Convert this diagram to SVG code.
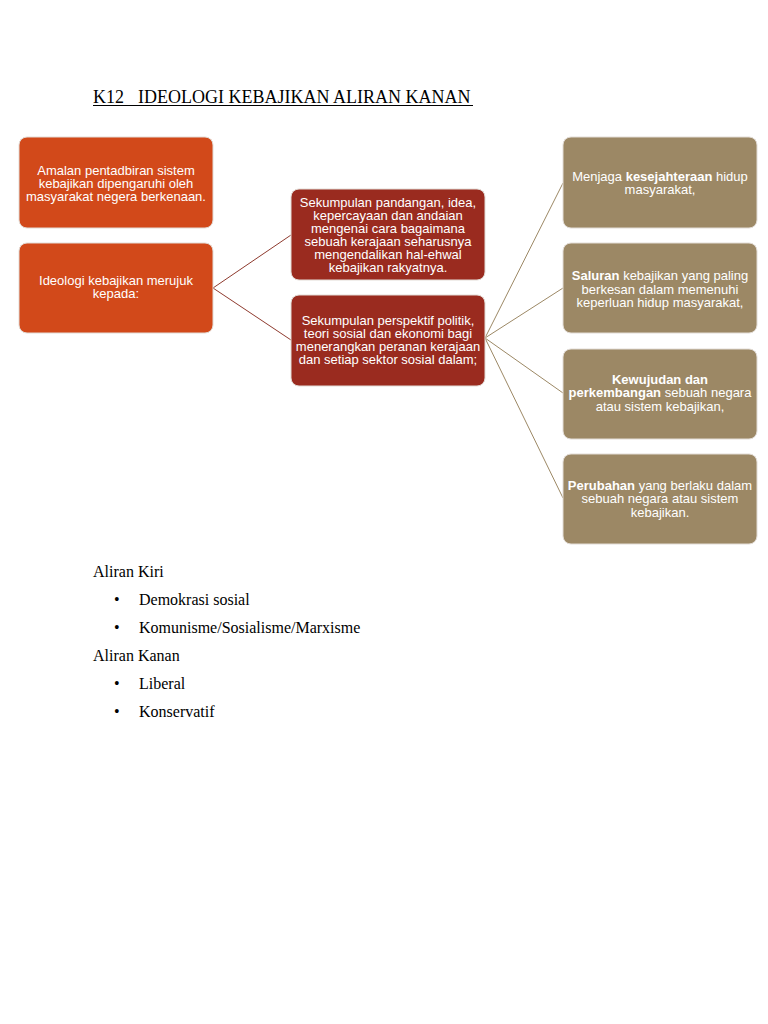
<svg xmlns="http://www.w3.org/2000/svg" width="768" height="1024" viewBox="0 0 768 1024">
<style>
.box{stroke:#e2dcd6;stroke-width:1}
.o{fill:#d2491a}
.r{fill:#9a2b1f}
.t{fill:#9c8865}
.bt{font-family:"Liberation Sans",Arial,sans-serif;font-size:13px;fill:#ffffff;text-anchor:middle}
.b{font-weight:bold}
.doc{font-family:"Liberation Serif","Times New Roman",serif;font-size:16px;fill:#000000}
</style>
<rect width="768" height="1024" fill="#ffffff"/>
<g id="title">
<text class="doc" x="93" y="103" style="font-size:18px">K12</text>
<text class="doc" x="138" y="103" style="font-size:18px">IDEOLOGI KEBAJIKAN ALIRAN KANAN</text>
<line x1="93" y1="105.5" x2="473" y2="105.5" stroke="#000" stroke-width="1"/>
</g>
<g id="connectors" fill="none" stroke-width="1">
<line x1="213" y1="288" x2="291" y2="235" stroke="#8e3a2e"/>
<line x1="213" y1="288" x2="291" y2="340" stroke="#8e3a2e"/>
<line x1="485" y1="338" x2="563" y2="183" stroke="#9c8865"/>
<line x1="485" y1="338" x2="563" y2="288" stroke="#9c8865"/>
<line x1="485" y1="338" x2="563" y2="393" stroke="#9c8865"/>
<line x1="485" y1="338" x2="563" y2="498" stroke="#9c8865"/>
</g>
<g id="nodeA">
<rect class="box o" x="19" y="137" width="194" height="91" rx="8"/>
<text class="bt" x="116" y="175">Amalan pentadbiran sistem</text>
<text class="bt" x="116" y="188">kebajikan dipengaruhi oleh</text>
<text class="bt" x="116" y="201">masyarakat negera berkenaan.</text>
</g>
<g id="nodeB">
<rect class="box o" x="19" y="243" width="194" height="90" rx="8"/>
<text class="bt" x="116" y="285">Ideologi kebajikan merujuk</text>
<text class="bt" x="116" y="298">kepada:</text>
</g>
<g id="nodeC">
<rect class="box r" x="291" y="189" width="194" height="91" rx="8"/>
<text class="bt" x="388" y="207">Sekumpulan pandangan, idea,</text>
<text class="bt" x="388" y="220">kepercayaan dan andaian</text>
<text class="bt" x="388" y="233">mengenai cara bagaimana</text>
<text class="bt" x="388" y="246">sebuah kerajaan  seharusnya</text>
<text class="bt" x="388" y="259">mengendalikan hal-ehwal</text>
<text class="bt" x="388" y="272">kebajikan rakyatnya.</text>
</g>
<g id="nodeD">
<rect class="box r" x="291" y="295" width="194" height="91" rx="8"/>
<text class="bt" x="388" y="325">Sekumpulan perspektif politik,</text>
<text class="bt" x="388" y="338">teori sosial dan ekonomi bagi</text>
<text class="bt" x="388" y="351">menerangkan peranan kerajaan</text>
<text class="bt" x="388" y="364">dan setiap sektor sosial dalam;</text>
</g>
<g id="nodeE1">
<rect class="box t" x="563" y="137" width="194" height="91" rx="8"/>
<text class="bt" x="660" y="181">Menjaga <tspan class="b">kesejahteraan</tspan> hidup</text>
<text class="bt" x="660" y="194">masyarakat,</text>
</g>
<g id="nodeE2">
<rect class="box t" x="563" y="243" width="194" height="90" rx="8"/>
<text class="bt" x="660" y="280"><tspan class="b">Saluran</tspan> kebajikan yang paling</text>
<text class="bt" x="660" y="294">berkesan dalam memenuhi</text>
<text class="bt" x="660" y="307">keperluan hidup masyarakat,</text>
</g>
<g id="nodeE3">
<rect class="box t" x="563" y="349" width="194" height="90" rx="8"/>
<text class="bt b" x="660" y="384">Kewujudan dan</text>
<text class="bt" x="660" y="397"><tspan class="b">perkembangan</tspan> sebuah negara</text>
<text class="bt" x="660" y="411">atau sistem kebajikan,</text>
</g>
<g id="nodeE4">
<rect class="box t" x="563" y="454" width="194" height="90" rx="8"/>
<text class="bt" x="660" y="490"><tspan class="b">Perubahan</tspan> yang berlaku dalam</text>
<text class="bt" x="660" y="503">sebuah negara atau sistem</text>
<text class="bt" x="660" y="517">kebajikan.</text>
</g>
<g id="list">
<text class="doc" x="93" y="577">Aliran Kiri</text>
<text class="doc" x="114" y="605">•</text>
<text class="doc" x="139" y="605">Demokrasi sosial</text>
<text class="doc" x="114" y="633">•</text>
<text class="doc" x="139" y="633">Komunisme/Sosialisme/Marxisme</text>
<text class="doc" x="93" y="661">Aliran Kanan</text>
<text class="doc" x="114" y="689">•</text>
<text class="doc" x="139" y="689">Liberal</text>
<text class="doc" x="114" y="717">•</text>
<text class="doc" x="139" y="717">Konservatif</text>
</g>
</svg>
